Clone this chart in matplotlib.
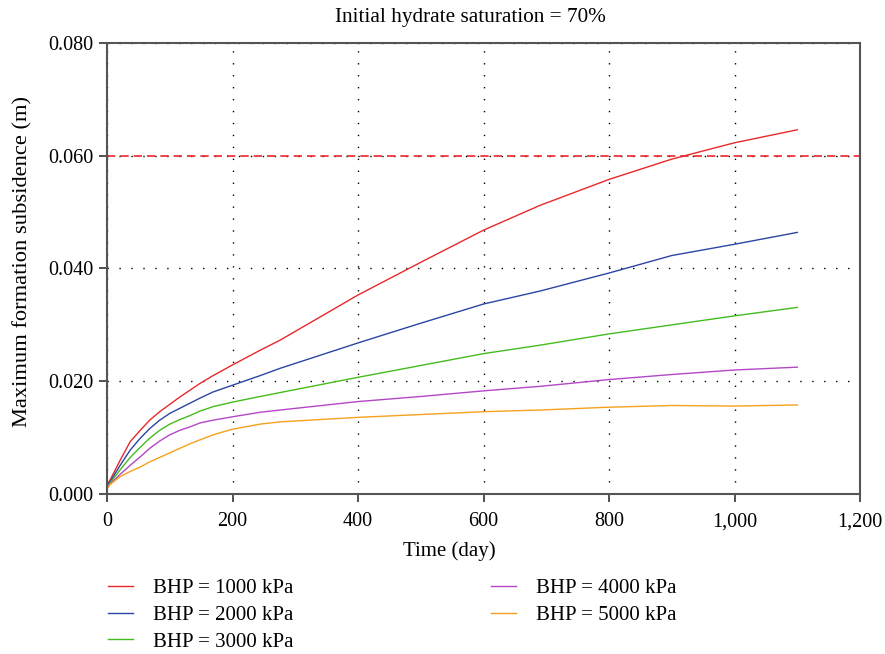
import matplotlib
matplotlib.use("Agg")
import matplotlib.pyplot as plt
from matplotlib.ticker import FuncFormatter, MultipleLocator

plt.rcParams["font.family"] = ["Liberation Serif", "DejaVu Serif"]

# values
days = [0, 5, 21, 37, 53, 68, 84, 100, 116, 132, 148, 169, 200, 244, 276,
        400, 500, 600, 690, 800, 900, 1000, 1100]
bhp_1000 = [0.0017, 0.0025, 0.0060, 0.0093, 0.0113, 0.0131, 0.0146, 0.0159, 0.0172, 0.0184,
            0.0196, 0.0210, 0.0229, 0.0255, 0.0273,
            0.0353, 0.0411, 0.0468, 0.0512, 0.0558, 0.0594, 0.0623, 0.0646]
bhp_2000 = [0.0015, 0.0022, 0.0051, 0.0078, 0.0099, 0.0116, 0.0131, 0.0143, 0.0152, 0.0161,
            0.0170, 0.0181, 0.0193, 0.0210, 0.0223,
            0.0268, 0.0303, 0.0337, 0.0360, 0.0392, 0.0423, 0.0443, 0.0464]
bhp_3000 = [0.0013, 0.0020, 0.0043, 0.0065, 0.0083, 0.0099, 0.0113, 0.0124, 0.0132, 0.0139,
            0.0147, 0.0155, 0.0163, 0.0173, 0.0180,
            0.0207, 0.0228, 0.0249, 0.0264, 0.0284, 0.0300, 0.0316, 0.0331]
bhp_4000 = [0.0012, 0.0018, 0.0035, 0.0051, 0.0066, 0.0081, 0.0094, 0.0105, 0.0113, 0.0119,
            0.0126, 0.0131, 0.0137, 0.0145, 0.0149,
            0.0164, 0.0173, 0.0183, 0.0191, 0.0203, 0.0212, 0.0220, 0.0225]
bhp_5000 = [0.0009, 0.0017, 0.0031, 0.0040, 0.0048, 0.0057, 0.0065, 0.0073, 0.0081, 0.0089,
            0.0096, 0.0105, 0.0115, 0.0124, 0.0128,
            0.0136, 0.0141, 0.0146, 0.0149, 0.0154, 0.0157, 0.0156, 0.0158]
labels = ["BHP = 1000 kPa", "BHP = 2000 kPa", "BHP = 3000 kPa", "BHP = 4000 kPa", "BHP = 5000 kPa"]
colors = ["#e8282b", "#2b45a3", "#44bb1e", "#b347c6", "#f4a11d"]
limit = 0.060

fig = plt.figure(figsize=(8.85, 6.54), dpi=100)
ax = fig.add_axes([0.1209, 0.2446, 0.8509, 0.6897])

for ys, lab, c in zip([bhp_1000, bhp_2000, bhp_3000, bhp_4000, bhp_5000], labels, colors):
    ax.plot(days, ys, color=c, lw=1.0, label=lab)

ax.axhline(limit, color="#e8282b", lw=1.2, dashes=(5, 3))

ax.set_xlim(0, 1200)
ax.set_ylim(0, 0.080)
ax.xaxis.set_major_locator(MultipleLocator(200))
ax.yaxis.set_major_locator(MultipleLocator(0.020))
ax.xaxis.set_major_formatter(FuncFormatter(lambda v, p: f"{int(v):,}"))
ax.yaxis.set_major_formatter(FuncFormatter(lambda v, p: f"{v:.3f}"))
ax.grid(True, color="black", lw=1.0, dashes=(1, 7.6))
ax.set_axisbelow(True)

for s in ax.spines.values():
    s.set_color("#555555")
    s.set_linewidth(1.5)
ax.tick_params(direction="out", length=6, width=1.2, color="#333333", labelsize=14.5)
ax.tick_params(axis="x", pad=7)
ax.tick_params(axis="y", pad=4)

ax.set_xlabel("Time (day)", fontsize=15, labelpad=7, x=0.455)
ax.set_ylabel("Maximum formation subsidence (m)", fontsize=16.2, labelpad=11, y=0.515)
ax.set_title("Initial hydrate saturation = 70%", fontsize=15.3, pad=15, x=0.483)

fig.legend(loc="upper left", bbox_to_anchor=(0.1127, 0.128), ncol=2, frameon=False,
           fontsize=15, handlelength=1.2, handletextpad=0.96, columnspacing=9.5,
           labelspacing=0.34, borderaxespad=0)

fig.savefig("out.png", dpi=100)
